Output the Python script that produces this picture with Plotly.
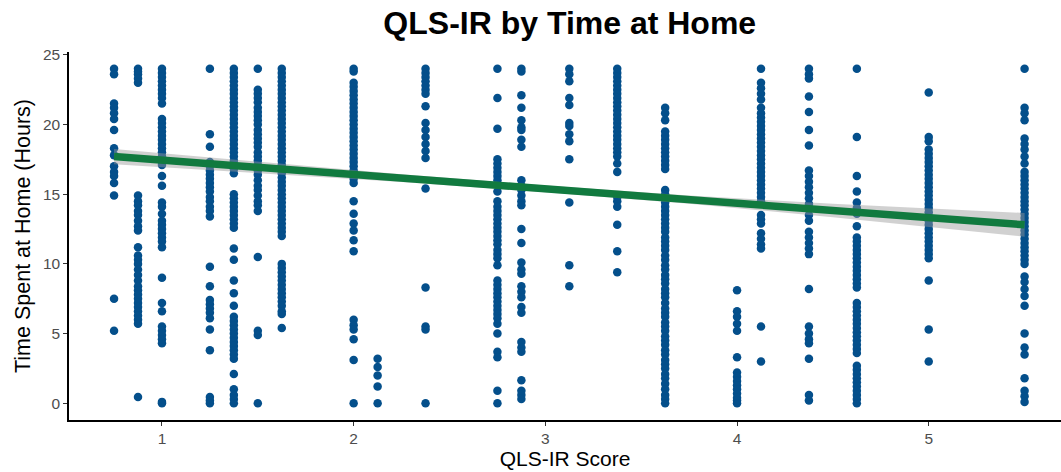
import plotly.graph_objects as go

# QLS-IR score columns and the hours values read for each column
col_x = [0.75, 0.875, 1.0, 1.25, 1.375, 1.5, 1.625, 2.0, 2.125, 2.375, 2.75,
         2.875, 3.125, 3.375, 3.625, 4.0, 4.125, 4.375, 4.625, 5.0, 5.5]

col_y = [
    [24.0, 23.6, 21.5, 21.2, 20.8, 20.4, 19.6, 18.3, 17.8, 17.0, 16.6, 16.3, 15.8, 14.9, 7.5, 5.2],
    [24.0, 23.8, 23.6, 23.3, 23.0, 14.9, 14.5, 14.2, 13.8, 13.5, 13.1, 12.7, 12.4, 11.2, 10.6, 10.3,
     10.0, 9.6, 9.2, 8.8, 8.4, 8.1, 7.8, 7.5, 7.2, 6.9, 6.6, 6.3, 6.0, 5.7, 0.45],
    [24.0, 23.7, 23.4, 23.1, 22.8, 22.5, 22.2, 21.9, 21.5, 20.4, 20.1, 19.8, 19.5, 19.2, 18.9, 18.6,
     18.3, 18.0, 17.7, 17.4, 17.1, 16.3, 15.6, 14.4, 14.1, 13.6, 13.1, 12.8, 12.5, 12.2, 11.9, 11.6,
     11.2, 9.0, 7.2, 6.6, 5.5, 5.2, 4.9, 4.6, 4.3, 0.1, 0.0],
    [24.0, 19.3, 18.4, 17.3, 17.0, 16.7, 16.4, 16.1, 15.8, 15.5, 15.2, 14.8, 14.5, 14.1, 13.8, 13.4,
     9.8, 8.4, 7.4, 7.1, 6.8, 6.5, 6.1, 5.3, 3.8, 0.45, 0.2, 0.0],
    [24.0, 23.7, 23.4, 23.1, 22.8, 22.5, 22.2, 21.9, 21.6, 21.3, 21.0, 20.7, 20.4, 20.1, 19.8, 19.5,
     19.2, 18.9, 18.6, 18.3, 18.0, 17.7, 17.4, 17.1, 16.8, 16.5, 15.0, 14.7, 14.4, 14.1, 13.8, 13.5,
     13.2, 12.9, 12.6, 11.1, 10.3, 8.8, 7.9, 7.0, 6.2, 5.9, 5.6, 5.3, 5.0, 4.7, 4.4, 4.1, 3.8, 3.5,
     3.2, 2.1, 1.0, 0.6, 0.3, 0.0],
    [24.0, 22.5, 22.2, 21.9, 21.6, 21.2, 20.9, 20.6, 20.3, 20.0, 19.6, 19.3, 19.0, 18.7, 18.4, 18.0,
     17.7, 17.4, 17.1, 16.7, 16.4, 16.0, 15.6, 15.3, 14.9, 14.5, 14.2, 13.8, 10.5, 5.2, 4.9, 0.0],
    [24.0, 23.7, 23.4, 23.1, 22.8, 22.5, 22.2, 21.9, 21.6, 21.3, 21.0, 20.7, 20.4, 20.1, 19.8, 19.5,
     19.2, 18.9, 18.6, 18.3, 18.0, 17.7, 17.4, 17.1, 16.8, 16.5, 16.2, 15.9, 15.6, 15.3, 15.0, 14.7,
     14.4, 14.1, 13.8, 13.5, 13.2, 12.9, 12.6, 12.3, 12.0, 10.0, 9.7, 9.4, 9.1, 8.8, 8.5, 8.2, 7.9,
     7.6, 7.3, 7.0, 6.6, 6.4, 5.4],
    [24.0, 23.8, 23.0, 22.7, 22.4, 22.1, 21.8, 21.5, 21.2, 20.9, 20.6, 20.3, 20.0, 19.7, 19.4, 19.1,
     18.8, 18.5, 18.2, 17.9, 17.6, 17.3, 17.0, 16.7, 16.4, 16.1, 15.8, 14.5, 13.6, 12.9, 12.4, 11.7,
     10.9, 6.0, 5.6, 5.3, 4.6, 3.1, 0.0],
    [3.2, 2.6, 2.0, 1.2, 0.0],
    [24.0, 23.7, 23.4, 23.1, 22.8, 22.5, 22.2, 21.3, 20.1, 19.6, 19.1, 18.6, 18.1, 17.6, 15.4, 8.3,
     5.5, 5.3, 0.0],
    [24.0, 21.9, 19.7, 17.5, 17.2, 16.9, 16.6, 16.3, 16.0, 15.7, 15.2, 14.5, 14.1, 13.8, 13.5, 13.2,
     12.9, 12.6, 12.3, 12.0, 11.7, 11.4, 11.0, 10.7, 10.4, 9.9, 8.8, 8.5, 8.2, 7.9, 7.6, 7.3, 7.0,
     6.7, 6.4, 6.1, 5.7, 5.0, 3.7, 3.3, 0.9, 0.0],
    [24.0, 23.8, 22.1, 21.2, 20.3, 19.8, 19.6, 18.9, 18.4, 16.0, 15.6, 15.3, 14.9, 14.5, 14.2, 12.5,
     11.5, 10.1, 9.6, 9.3, 8.4, 8.0, 7.6, 6.9, 6.5, 4.4, 4.0, 3.7, 1.65, 0.9, 0.6, 0.3],
    [24.0, 23.6, 23.1, 21.9, 21.4, 20.1, 19.9, 19.3, 18.8, 17.5, 14.4, 9.9, 8.4],
    [24.0, 23.7, 23.4, 23.1, 22.8, 22.5, 22.2, 21.9, 21.6, 21.3, 21.0, 20.7, 20.4, 20.1, 19.8, 19.5,
     19.2, 18.9, 18.6, 18.3, 18.0, 17.7, 17.2, 16.6, 14.8, 14.5, 14.1, 12.8, 10.9, 9.4],
    [21.2, 20.8, 20.3, 19.5, 19.2, 18.9, 18.6, 18.3, 18.0, 17.7, 17.4, 17.1, 16.8, 15.3, 15.0, 14.7,
     14.4, 14.1, 13.8, 13.5, 13.2, 12.9, 12.6, 12.3, 11.9, 11.6, 11.3, 11.0, 10.6, 10.3, 9.9,
     9.6, 9.2, 8.9, 8.6, 8.2, 7.9, 7.6, 7.2, 6.8, 6.5, 6.2, 5.8, 5.5, 5.2, 4.8, 4.5, 4.2, 3.8,
     3.5, 3.1, 2.8, 2.5, 2.1, 1.8, 1.4, 1.0, 0.6, 0.3, 0.0],
    [8.1, 6.6, 6.2, 5.7, 5.2, 3.3, 2.2, 1.9, 1.6, 1.3, 1.0, 0.7, 0.4, 0.2, 0.0],
    [24.0, 23.0, 22.6, 22.2, 21.8, 21.2, 20.8, 20.5, 20.2, 19.9, 19.6, 19.3, 19.0, 18.7, 18.4, 18.1,
     17.8, 17.5, 17.2, 16.9, 16.6, 16.3, 16.0, 15.7, 15.4, 15.1, 14.8, 14.5, 13.5, 13.2, 12.9, 12.2,
     11.8, 11.4, 11.1, 5.5, 3.0],
    [24.0, 23.6, 23.3, 22.0, 20.9, 19.6, 18.5, 16.7, 16.3, 15.9, 15.5, 15.1, 14.7, 14.3, 13.9, 13.5,
     13.1, 12.3, 11.9, 11.5, 11.1, 10.7, 8.2, 5.5, 5.0, 4.6, 4.3, 3.2, 0.6, 0.2],
    [24.0, 19.1, 16.3, 15.2, 14.4, 14.0, 13.6, 12.7, 11.9, 11.6, 11.3, 11.0, 10.7, 10.4, 10.1, 9.8,
     9.5, 9.2, 8.9, 8.6, 8.3, 7.2, 6.9, 6.6, 6.3, 6.0, 5.7, 5.4, 5.1, 4.8, 4.5, 4.2, 3.9, 3.6, 2.7,
     2.4, 2.1, 1.8, 1.5, 1.2, 0.9, 0.6, 0.3, 0.0],
    [22.3, 19.1, 18.8, 18.2, 17.9, 17.6, 17.3, 17.0, 16.7, 16.4, 16.1, 15.8, 15.5, 15.2, 14.9, 14.6,
     14.3, 14.0, 13.7, 13.4, 13.1, 12.8, 12.5, 12.2, 11.9, 11.6, 11.3, 11.0, 10.7, 10.4, 8.8, 5.3, 3.0],
    [24.0, 21.2, 20.8, 20.3, 19.0, 18.6, 18.2, 17.7, 17.2, 16.6, 16.3, 16.0, 15.7, 15.4, 15.1, 14.8,
     14.5, 14.2, 13.9, 13.6, 13.3, 13.0, 12.7, 12.4, 12.1, 11.8, 11.5, 11.2, 10.9, 10.6, 10.3, 10.0,
     9.1, 8.7, 8.2, 7.7, 7.0, 5.0, 4.0, 3.5, 1.8, 0.9, 0.5, 0.1],
]

# fitted line and confidence band
fit_x = [0.75, 5.5]
fit_y = [17.7, 12.8]
ci_x = [0.75, 1.5, 2.25, 3.0, 3.75, 4.5, 5.0, 5.5]
ci_fit = [17.7, 16.93, 16.15, 15.38, 14.61, 13.83, 13.32, 12.8]
ci_half = [0.55, 0.4, 0.28, 0.25, 0.3, 0.48, 0.65, 0.85]

x_ticks = [1, 2, 3, 4, 5]
y_ticks = [0, 5, 10, 15, 20, 25]

xs, ys = [], []
for cx, vals in zip(col_x, col_y):
    xs += [cx] * len(vals)
    ys += vals

fig = go.Figure()
fig.add_trace(go.Scatter(x=xs, y=ys, mode="markers",
                         marker=dict(size=8.5, color="#044f8b"),
                         hoverinfo="skip", showlegend=False))
ci_up = [f + h for f, h in zip(ci_fit, ci_half)]
ci_lo = [f - h for f, h in zip(ci_fit, ci_half)]
fig.add_trace(go.Scatter(x=ci_x + ci_x[::-1], y=ci_up + ci_lo[::-1], fill="toself",
                         fillcolor="rgba(153,153,153,0.45)", line=dict(width=0),
                         mode="lines", hoverinfo="skip", showlegend=False))
fig.add_trace(go.Scatter(x=fit_x, y=fit_y, mode="lines",
                         line=dict(color="#117a3f", width=7.5),
                         hoverinfo="skip", showlegend=False))

fig.update_layout(
    width=1061, height=472,
    margin=dict(l=69, r=0, t=52, b=52, autoexpand=False),
    paper_bgcolor="white", plot_bgcolor="white",
    font=dict(family="Liberation Sans, Arial, sans-serif"),
    title=dict(text="<b>QLS-IR by Time at Home</b>", x=0.537, xanchor="center",
               y=0.952, yanchor="middle",
               font=dict(size=32, color="black")),
    xaxis=dict(range=[0.515, 5.69], tickvals=x_ticks, showgrid=False, zeroline=False,
               showline=True, linecolor="black", linewidth=1.5, automargin=False,
               ticks="outside", ticklen=4, tickcolor="#333333", tickwidth=1.2,
               tickfont=dict(size=15.5, color="#4d4d4d"),
               title=dict(text="QLS-IR Score", font=dict(size=21, color="black"), standoff=2)),
    yaxis=dict(range=[-1.2, 25.2], tickvals=y_ticks, showgrid=False, zeroline=False,
               showline=True, linecolor="black", linewidth=1.5, automargin=False,
               ticks="outside", ticklen=4, tickcolor="#333333", tickwidth=1.2,
               tickfont=dict(size=15.5, color="#4d4d4d"),
               title=dict(text="Time Spent at Home (Hours)", font=dict(size=21.5, color="black"), standoff=6)),
)

fig.write_html("out.html", config={"displayModeBar": False},
               post_script="document.body.style.margin='0';document.body.style.overflow='hidden';")
